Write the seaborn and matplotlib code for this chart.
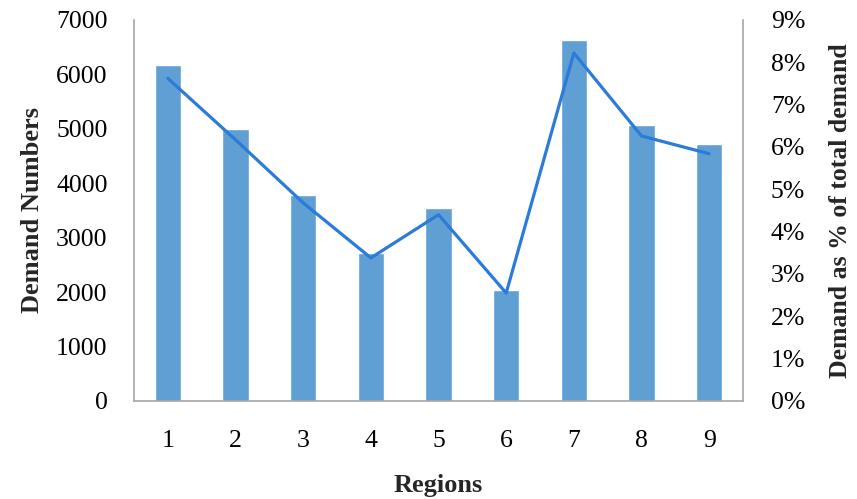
import numpy as np
import pandas as pd
import matplotlib
matplotlib.use("Agg")
import matplotlib.pyplot as plt
from matplotlib.ticker import FuncFormatter
import seaborn as sns

# data
regions = ["1", "2", "3", "4", "5", "6", "7", "8", "9"]
demand = [6170, 5000, 3790, 2720, 3550, 2040, 6640, 5070, 4720]
demand_pct = [7.62, 6.17, 4.68, 3.38, 4.40, 2.55, 8.22, 6.26, 5.84]

BAR_COLOR = "#5f9fd3"
LINE_COLOR = "#2b7bd8"
SPINE_COLOR = "#a6a6a6"

sns.set_theme(style="white")
plt.rcParams["font.family"] = ["Liberation Serif", "DejaVu Serif"]

df = pd.DataFrame({"region": regions, "demand": demand, "pct": demand_pct})

fig = plt.figure(figsize=(8.57, 4.99), dpi=100)
ax = fig.add_axes([0.1564, 0.1964, 0.7106, 0.7636])

sns.barplot(data=df, x="region", y="demand", color=BAR_COLOR,
            width=0.39, saturation=1, ax=ax)
ax.set_ylim(0, 7000)
ax.set_yticks(range(0, 7001, 1000))
ax.set_xlim(-0.5, len(regions) - 0.5)

ax2 = ax.twinx()
sns.lineplot(x=np.arange(len(regions)), y=df["pct"], color=LINE_COLOR,
             linewidth=2.3, ax=ax2)
ax2.set_ylim(0, 9)
ax2.set_yticks(range(0, 10))
ax2.yaxis.set_major_formatter(FuncFormatter(lambda v, p: f"{v:.0f}%"))

for a in (ax, ax2):
    for s in a.spines.values():
        s.set_visible(False)
    a.tick_params(length=0, labelsize=18.5, colors="black")

ax.spines["left"].set_visible(True)
ax.spines["bottom"].set_visible(True)
ax2.spines["right"].set_visible(True)
for s in (ax.spines["left"], ax.spines["bottom"], ax2.spines["right"]):
    s.set_color(SPINE_COLOR)
    s.set_linewidth(1.2)

ax.tick_params(axis="y", pad=19)
ax.tick_params(axis="x", pad=21)
ax2.tick_params(axis="y", pad=20)

ax.set_xlabel("Regions", fontsize=19, fontweight="bold", labelpad=16)
ax.set_ylabel("Demand Numbers", fontsize=19, fontweight="bold", labelpad=9)
ax2.set_ylabel("Demand as % of total demand", fontsize=18.5,
               fontweight="bold", rotation=90, labelpad=17)

fig.savefig("out.png", dpi=100, facecolor="white")
